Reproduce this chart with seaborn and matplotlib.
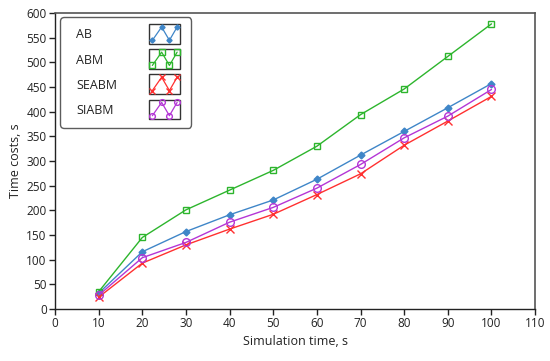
import matplotlib
matplotlib.use("Agg")
import matplotlib.pyplot as plt
import seaborn as sns
import pandas as pd
from matplotlib.legend_handler import HandlerBase
from matplotlib.lines import Line2D
from matplotlib.patches import Rectangle

sim_time = [10, 20, 30, 40, 50, 60, 70, 80, 90, 100]
ab = [32, 116, 157, 191, 221, 263, 312, 360, 408, 457]
abm = [35, 145, 201, 241, 281, 330, 394, 446, 512, 578]
seabm = [24, 93, 130, 162, 192, 232, 274, 332, 381, 431]
siabm = [28, 104, 135, 176, 206, 245, 293, 347, 391, 445]
series_names = ["AB", "ABM", "SEABM", "SIABM"]
x_ticks = list(range(0, 111, 10))
y_ticks = list(range(0, 601, 50))

colors = {"AB": "#3f86c8", "ABM": "#2db52d", "SEABM": "#ff3030", "SIABM": "#b436d6"}
markers = {"AB": "D", "ABM": "s", "SEABM": "x", "SIABM": "o"}
msize = {"AB": 3.5, "ABM": 5, "SEABM": 5.5, "SIABM": 5.5}
filled = {"AB": True, "ABM": False, "SEABM": True, "SIABM": False}

df = pd.DataFrame({"t": sim_time, "AB": ab, "ABM": abm, "SEABM": seabm, "SIABM": siabm})

sns.set_style("white")
plt.rcParams["font.family"] = ["Open Sans", "DejaVu Sans"]

fig = plt.figure(figsize=(5.5, 3.61), dpi=100)
ax = fig.add_axes([0.1, 0.144, 0.873, 0.82])

for name in series_names:
    kw = dict(marker=markers[name], markersize=msize[name], color=colors[name],
              linewidth=1.0, markeredgewidth=1.0, markeredgecolor=colors[name])
    kw["markerfacecolor"] = colors[name] if filled[name] else "none"
    sns.lineplot(data=df, x="t", y=name, ax=ax, label=name, **kw)

ax.set_xlim(0, 110)
ax.set_ylim(0, 600)
ax.set_xticks(x_ticks)
ax.set_yticks(y_ticks)
ax.tick_params(axis="both", which="both", direction="out", length=4, width=1,
               labelsize=8.5, colors="#222222", bottom=True, left=True, pad=2)
ax.set_xlabel("Simulation time, s", fontsize=9, color="#222222", labelpad=3)
ax.set_ylabel("Time costs, s", fontsize=9, color="#222222", labelpad=3)
for side in ["left", "bottom"]:
    ax.spines[side].set_color("#222222")
    ax.spines[side].set_linewidth(1.0)
for side in ["top", "right"]:
    ax.spines[side].set_color("#555555")
    ax.spines[side].set_linewidth(1.2)

EXT = 3.9


class HandlerZig(HandlerBase):
    def create_artists(self, legend, orig_handle, xdescent, ydescent, width, height, fontsize, trans):
        x0, y0 = -xdescent, -ydescent
        rect = Rectangle((x0, y0 - EXT), width, height + 2 * EXT, facecolor="white",
                         edgecolor="#333333", linewidth=1.0, transform=trans)
        xs = [x0 + width * f for f in (0.1, 0.4, 0.65, 0.9)]
        lo, hi = y0 - EXT + 2.5, y0 + height + EXT - 2.0
        ys = [lo, hi, lo, hi]
        ln = Line2D(xs, ys, color=orig_handle.get_color(), marker=orig_handle.get_marker(),
                    markersize=orig_handle.get_markersize() * 0.75,
                    markerfacecolor=orig_handle.get_markerfacecolor(),
                    markeredgecolor=orig_handle.get_markeredgecolor(),
                    linewidth=0.9, transform=trans)
        return [rect, ln]


handles, labels = ax.get_legend_handles_labels()
leg = ax.legend(handles, labels, loc="upper left", bbox_to_anchor=(0.0104, 0.986),
                borderaxespad=0.0,
                handler_map={h: HandlerZig() for h in handles},
                markerfirst=False, handlelength=2.48, handleheight=0.7, handletextpad=1.0,
                labelspacing=0.97, borderpad=0.9, fontsize=9, frameon=True,
                fancybox=True)
leg.get_frame().set_edgecolor("#333333")
leg.get_frame().set_linewidth(1.0)
leg.get_frame().set_boxstyle("round,pad=0,rounding_size=0.3")
for t in leg.get_texts():
    t.set_color("#222222")
    t.set_position((5, 0))

# left-align labels, handles on the right
ROW_W = 109.0
for col in leg._legend_handle_box.get_children():
    col.align = "left"
    for row in col.get_children():
        row.mode = "expand"
        row.width = ROW_W

fig.savefig("out.png", dpi=100)
